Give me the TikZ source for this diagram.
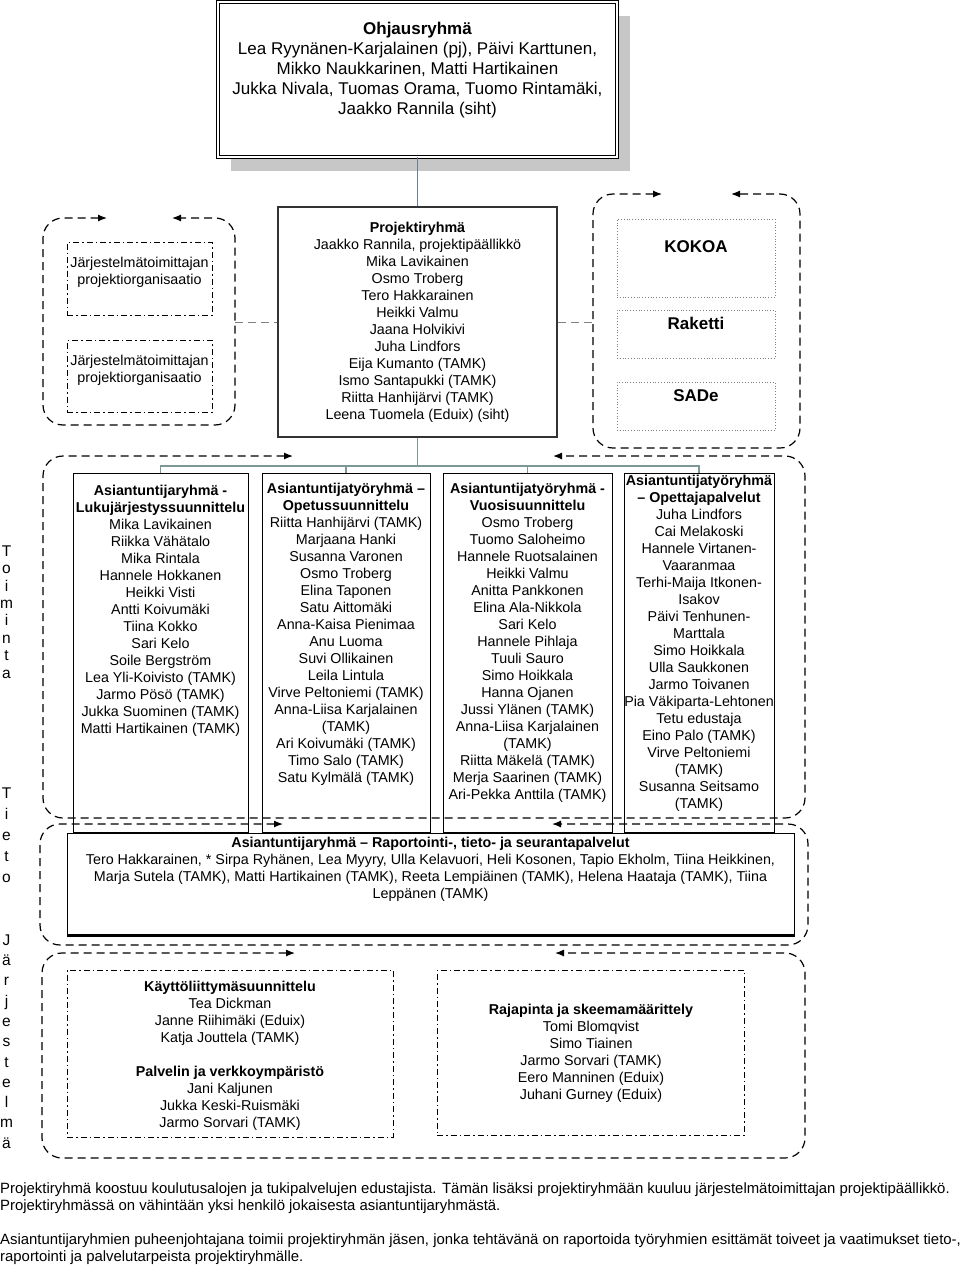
\documentclass[tikz,border=0pt]{standalone}
\usepackage{fontspec}
\setmainfont{Liberation Sans}
\usetikzlibrary{arrows.meta,fit,shadows}

\definecolor{linkgray}{RGB}{110,125,150}
\definecolor{busteal}{RGB}{125,150,150}

\tikzset{
  grpdash/.style={dash pattern=on 8pt off 5pt, line width=1.2pt, rounded corners=20pt,
    arrows={Latex[length=9pt,width=7pt]-Latex[length=9pt,width=7pt]}},
  colbox/.style={draw, line width=1pt, inner sep=0pt},
  dashdotbox/.style={draw, line width=0.8pt, dash pattern=on 6pt off 3pt on 1.5pt off 3pt, inner sep=0pt},
  dotbox/.style={draw=gray, line width=0.8pt, dotted, inner sep=0pt},
  names/.style={align=center, inner sep=0pt, font=\fontsize{14.3}{17}\selectfont},
  bigname/.style={inner sep=0pt, font=\fontsize{17}{20}\selectfont\bfseries},
  linkdash/.style={draw=gray, dash pattern=on 8pt off 5pt, line width=1pt},
  busline/.style={draw=busteal, line width=1.3pt},
  vletters/.style={align=center, inner sep=0pt, anchor=north, font=\fontsize{15.5}{#1}\selectfont},
}

% frame of a group: rounded, dashed, top edge split into two arrows
\newcommand\cycleframe[6]{\draw[grpdash] (#5,#2) -- (#1,#2) -- (#1,#4) -- (#3,#4) -- (#3,#2) -- (#6,#2);}

\begin{document}
\begin{tikzpicture}[x=1pt,y=-1pt]
\useasboundingbox (0,0) rectangle (960,1268);

% steering group
\node[draw, double, double distance=2pt, line width=0.7pt, fill=white, inner sep=0pt,
  fit={(218,2) (617,157)},
  drop shadow={shadow xshift=13pt, shadow yshift=-14pt, fill=black!22, opacity=1}] (ohj) {};
\node[names, anchor=north, font=\fontsize{17}{20}\selectfont] (ohjtxt) at (417.5,21.7) {\textbf{Ohjausryhmä}\\
  Lea Ryynänen-Karjalainen (pj), Päivi Karttunen,\\
  Mikko Naukkarinen, Matti Hartikainen\\
  Jukka Nivala, Tuomas Orama, Tuomo Rintamäki,\\
  Jaakko Rannila (siht)};

% project group
\node[draw=black!80, line width=1.6pt, inner sep=0pt, fit={(278,207) (557,437)}] (proj) {};
\node[names, anchor=north] (projtxt) at (417.5,221.6) {\textbf{Projektiryhmä}\\
  Jaakko Rannila, projektipäällikkö\\ Mika Lavikainen\\ Osmo Troberg\\ Tero Hakkarainen\\
  Heikki Valmu\\ Jaana Holvikivi\\ Juha Lindfors\\ Eija Kumanto (TAMK)\\
  Ismo Santapukki (TAMK)\\ Riitta Hanhijärvi (TAMK)\\ Leena Tuomela (Eduix) (siht)};
\draw[draw=linkgray, line width=1.3pt] (ohj.south) -- (proj.north);

% supplier organisations
\cycleframe{43}{218}{235}{425}{107}{172}
\node[dashdotbox, fit={(67,242) (212,315)}] (sup1) {};
\node[names, anchor=north] (sup1txt) at (139.5,256.6) {Järjestelmätoimittajan\\projektiorganisaatio};
\node[dashdotbox, fit={(67,340) (212,412)}] (sup2) {};
\node[names, anchor=north] (sup2txt) at (139.5,354.6) {Järjestelmätoimittajan\\projektiorganisaatio};

% other projects
\cycleframe{593}{194}{800}{448}{662}{731}
\node[dotbox, fit={(617,219) (775,297)}] (kokoa) {};
\node[bigname] (kokoatxt) at (696,247) {KOKOA};
\node[dotbox, fit={(617,310) (775,358)}] (raketti) {};
\node[bigname] (rakettitxt) at (696,323) {Raketti};
\node[dotbox, fit={(617,382) (775,430)}] (sade) {};
\node[bigname] (sadetxt) at (696,396) {SADe};

\coordinate (lgrp) at (235,322);
\coordinate (rgrp) at (593,322);
\draw[linkdash] (lgrp) -- (proj.west);
\draw[linkdash] (proj.east) -- (rgrp);

% Toiminta
\cycleframe{43}{456}{805}{818}{293}{553}
\node[colbox, fit={(73,473) (248,832)}] (col1) {};
\node[colbox, fit={(262,473) (430,832)}] (col2) {};
\node[colbox, fit={(443,473) (612,832)}] (col3) {};
\node[colbox, fit={(624,473) (774,832)}] (col4) {};
\coordinate (bus) at (417.5,466);
\draw[busline] (proj.south) -- (bus);
\draw[busline] (col1.north) |- (bus) -| (col4.north);
\draw[busline] (col2.north) -- (col2.north |- bus);
\draw[busline] (col3.north) -- (col3.north |- bus);

\node[names, anchor=north] (col1txt) at (160.5,484.6) {\textbf{Asiantuntijaryhmä -}\\
  \textbf{Lukujärjestyssuunnittelu}\\ Mika Lavikainen\\ Riikka Vähätalo\\ Mika Rintala\\
  Hannele Hokkanen\\ Heikki Visti\\ Antti Koivumäki\\ Tiina Kokko\\ Sari Kelo\\
  Soile Bergström\\ Lea Yli-Koivisto (TAMK)\\ Jarmo Pösö (TAMK)\\
  Jukka Suominen (TAMK)\\ Matti Hartikainen (TAMK)};
\node[names, anchor=north] (col2txt) at (346,482.6) {\textbf{Asiantuntijatyöryhmä –}\\
  \textbf{Opetussuunnittelu}\\ Riitta Hanhijärvi (TAMK)\\ Marjaana Hanki\\ Susanna Varonen\\
  Osmo Troberg\\ Elina Taponen\\ Satu Aittomäki\\ Anna-Kaisa Pienimaa\\ Anu Luoma\\
  Suvi Ollikainen\\ Leila Lintula\\ Virve Peltoniemi (TAMK)\\ Anna-Liisa Karjalainen\\
  (TAMK)\\ Ari Koivumäki (TAMK)\\ Timo Salo (TAMK)\\ Satu Kylmälä (TAMK)};
\node[names, anchor=north] (col3txt) at (527.5,482.6) {\textbf{Asiantuntijatyöryhmä -}\\
  \textbf{Vuosisuunnittelu}\\ Osmo Troberg\\ Tuomo Saloheimo\\ Hannele Ruotsalainen\\
  Heikki Valmu\\ Anitta Pankkonen\\ Elina Ala-Nikkola\\ Sari Kelo\\ Hannele Pihlaja\\
  Tuuli Sauro\\ Simo Hoikkala\\ Hanna Ojanen\\ Jussi Ylänen (TAMK)\\
  Anna-Liisa Karjalainen\\ (TAMK)\\ Riitta Mäkelä (TAMK)\\ Merja Saarinen (TAMK)\\
  Ari-Pekka Anttila (TAMK)};
\node[names, anchor=north] (col4txt) at (699,474.6) {\textbf{Asiantuntijatyöryhmä}\\
  \textbf{– Opettajapalvelut}\\ Juha Lindfors\\ Cai Melakoski\\ Hannele Virtanen-\\
  Vaaranmaa\\ Terhi-Maija Itkonen-\\ Isakov\\ Päivi Tenhunen-\\ Marttala\\
  Simo Hoikkala\\ Ulla Saukkonen\\ Jarmo Toivanen\\ Pia Väkiparta-Lehtonen\\
  Tetu edustaja\\ Eino Palo (TAMK)\\ Virve Peltoniemi\\ (TAMK)\\ Susanna Seitsamo\\ (TAMK)};

% Tieto
\cycleframe{40}{824}{808}{945}{283}{552}
\node[colbox, fill=white, fit={(67,833) (794,935)}] (rap) {};
\draw[line width=2.5pt] (rap.south west) -- (rap.south east);
\node[names, anchor=north] (raptxt) at (430.5,836.6) {\textbf{Asiantuntijaryhmä – Raportointi-, tieto- ja seurantapalvelut}\\
  Tero Hakkarainen, * Sirpa Ryhänen, Lea Myyry, Ulla Kelavuori, Heli Kosonen, Tapio Ekholm, Tiina Heikkinen,\\
  Marja Sutela (TAMK), Matti Hartikainen (TAMK), Reeta Lempiäinen (TAMK), Helena Haataja (TAMK), Tiina\\
  Leppänen (TAMK)};

% Järjestelmä
\cycleframe{42}{953}{805}{1158}{295}{555}
\node[dashdotbox, fit={(67,970) (393,1137)}] (ui) {};
\node[names, anchor=north] (uitxt) at (230,980.6) {\textbf{Käyttöliittymäsuunnittelu}\\
  Tea Dickman\\ Janne Riihimäki (Eduix)\\ Katja Jouttela (TAMK)\\[17pt]
  \textbf{Palvelin ja verkkoympäristö}\\ Jani Kaljunen\\ Jukka Keski-Ruismäki\\ Jarmo Sorvari (TAMK)};
\node[dashdotbox, fit={(437,970) (744,1135)}] (api) {};
\node[names, anchor=north] (apitxt) at (591,1003.6) {\textbf{Rajapinta ja skeemamäärittely}\\
  Tomi Blomqvist\\ Simo Tiainen\\ Jarmo Sorvari (TAMK)\\ Eero Manninen (Eduix)\\ Juhani Gurney (Eduix)};

% side labels
\node[vletters=17.4] (vtoim) at (6.5,545.4) {T\\o\\i\\m\\i\\n\\t\\a};
\node[vletters=21] (vtieto) at (6.5,787.4) {T\\i\\e\\t\\o};
\node[vletters=20.3] (vjarj) at (6.5,934.4) {J\\ä\\r\\j\\e\\s\\t\\e\\l\\m\\ä};

% notes
\node[anchor=north west, align=left, inner sep=0pt, font=\fontsize{14.9}{17}\selectfont] (notes) at (0,1182.5) {%
  Projektiryhmä koostuu koulutusalojen ja tukipalvelujen edustajista. Tämän lisäksi projektiryhmään kuuluu järjestelmätoimittajan projektipäällikkö.\\
  Projektiryhmässä on vähintään yksi henkilö jokaisesta asiantuntijaryhmästä.\\[17pt]
  Asiantuntijaryhmien puheenjohtajana toimii projektiryhmän jäsen, jonka tehtävänä on raportoida työryhmien esittämät toiveet ja vaatimukset tieto-,\\
  raportointi ja palvelutarpeista projektiryhmälle.};
\end{tikzpicture}
\end{document}
